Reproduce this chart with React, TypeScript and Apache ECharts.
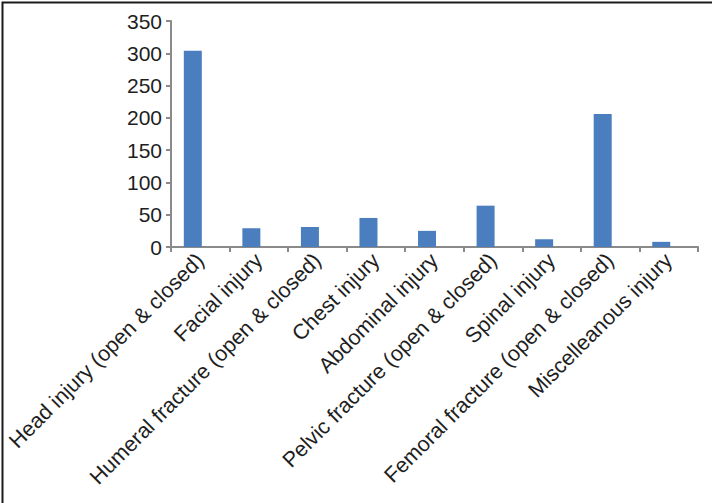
import React, { useEffect, useRef } from "react";
import * as echarts from "echarts";

const categories = [
  "Head injury (open & closed)",
  "Facial injury",
  "Humeral fracture (open & closed)",
  "Chest injury",
  "Abdominal injury",
  "Pelvic fracture (open & closed)",
  "Spinal injury",
  "Femoral fracture (open & closed)",
  "Miscelleanous injury",
];
const values = [304, 29, 31, 45, 25, 64, 12, 206, 8];
// an empty companion series (as in the original clustered-bar layout)
const emptySeries = [null, null, null, null, null, null, null, null, null];

export default function App() {
  const ref = useRef<HTMLDivElement>(null);
  useEffect(() => {
    if (!ref.current) return;
    const chart = echarts.init(ref.current, undefined, { renderer: "svg" });
    chart.setOption({
      animation: false,
      backgroundColor: "#ffffff",
      grid: { left: 171, right: 14, top: 21, bottom: 256 },
      xAxis: {
        type: "category",
        data: categories,
        axisLine: { lineStyle: { color: "#8a8a8a", width: 2 } },
        axisTick: { show: true, length: 5, alignWithLabel: false, lineStyle: { color: "#8a8a8a", width: 2 } },
        axisLabel: {
          rotate: 45,
          interval: 0,
          fontFamily: "Liberation Sans, Arial, sans-serif",
          fontSize: 21.5,
          color: "#1e1e1e",
          margin: 10,
        },
      },
      yAxis: {
        type: "value",
        min: 0,
        max: 350,
        interval: 50,
        splitLine: { show: false },
        axisLine: { show: true, lineStyle: { color: "#8a8a8a", width: 2 } },
        axisTick: { show: true, length: 5, lineStyle: { color: "#8a8a8a", width: 2 } },
        axisLabel: {
          fontFamily: "Liberation Sans, Arial, sans-serif",
          fontSize: 21,
          color: "#1e1e1e",
          margin: 9,
        },
      },
      series: [
        {
          type: "bar",
          data: values,
          barWidth: 18,
          barGap: "-17%",
          itemStyle: { color: "#4a7ebf" },
        },
        {
          type: "bar",
          data: emptySeries,
          barWidth: 18,
          itemStyle: { color: "#c0504d" },
        },
      ],
      graphic: [
        {
          type: "rect",
          left: 0,
          top: 0,
          shape: { x: 0, y: 0, width: 711, height: 502 },
          style: { fill: "none", stroke: "#1a1a1a", lineWidth: 2 },
          silent: true,
        },
      ],
    });
    return () => chart.dispose();
  }, []);
  return (
    <div
      ref={ref}
      style={{ position: "fixed", left: 0, top: 0, width: 712, height: 503 }}
    />
  );
}
